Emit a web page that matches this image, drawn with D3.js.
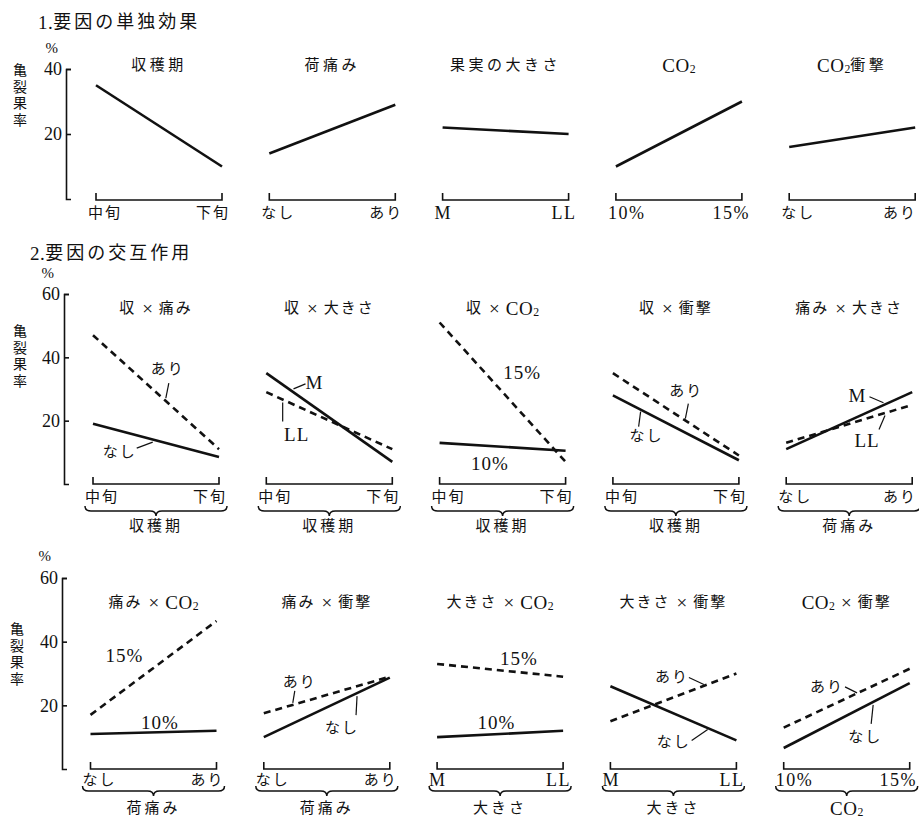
<!DOCTYPE html>
<html><head><meta charset="utf-8">
<script src="https://cdn.jsdelivr.net/npm/d3@7"></script>
<style>
body{margin:0;background:#fff;}
text{font-family:"Liberation Serif","Noto Sans CJK JP",serif;fill:#111;}
</style></head><body>
<svg id="c" width="919" height="827"></svg>
<script>
// ---------- data ----------
const sectionTitles = ["1.要因の単独効果", "2.要因の交互作用"];
const yTitle = "亀裂果率";
const mainTitles = ["収穫期", "荷痛み", "果実の大きさ", "CO₂", "CO₂衝撃"];
const mainCats = [["中旬","下旬"],["なし","あり"],["M","LL"],["10%","15%"],["なし","あり"]];
const mainValues = [[35,10],[14,29],[22,20],[10,30],[16,22]];
const yTicksMain = [20, 40];

const intTitles = ["収×痛み","収×大きさ","収×CO₂","収×衝撃","痛み×大きさ",
                   "痛み×CO₂","痛み×衝撃","大きさ×CO₂","大きさ×衝撃","CO₂×衝撃"];
const intCats = [["中旬","下旬"],["中旬","下旬"],["中旬","下旬"],["中旬","下旬"],["なし","あり"],
                 ["なし","あり"],["なし","あり"],["M","LL"],["M","LL"],["10%","15%"]];
const intFactor = ["収穫期","収穫期","収穫期","収穫期","荷痛み","荷痛み","荷痛み","大きさ","大きさ","CO₂"];
const dashedNames = ["あり","LL","15%","あり","LL","15%","あり","15%","あり","あり"];
const solidNames  = ["なし","M","10%","なし","M","10%","なし","10%","なし","なし"];
const dashedValues = [[47,11],[29,11],[51,7],[35,9],[13,25],[17,46.5],[17.5,29],[33,29],[15,30],[13,31.5]];
const solidValues  = [[19,8.5],[35,7],[13,10.5],[28,7.5],[11,29],[11,12],[10,28.7],[10,12],[26,9],[6.6,27]];
const yTicksInt = [20, 40, 60];

// ---------- layout (positions / styles) ----------
const W = 126, colStep = 173.3;
const rows = [
  {x0:96,   axisX:66, yBottom:199, yTop:69,  max:40, tickY:213, titleY:65,  pct:[52,48],  ylab:[20,70]},
  {x0:93,   axisX:64, yBottom:484, yTop:294, max:60, tickY:497, titleY:308, pct:[48,273], ylab:[20,331], braceY:511, nameY:526},
  {x0:90.5, axisX:62, yBottom:769, yTop:578, max:60, tickY:780, titleY:602, pct:[45,556], ylab:[17,629], braceY:791, nameY:808}
];
// label placement for series annotations: t along line, label offset, leader segment (relative to anchor)
const annot = [
  {d:{t:.57,dx:3,dy:-31,l:[1,-2,4,-17]},   s:{t:.49,dx:-35,dy:12,l:[-2,2,-18,8]}},
  {d:{t:.13,dx:14,dy:34,l:[0,3,0,22]},     s:{t:.2,dx:23,dy:-9,l:[2,-2,14,-7]}},
  {d:{t:.6,dx:7,dy:-34},                   s:{t:.4,dx:0,dy:17}},
  {d:{t:.575,dx:1,dy:-30,l:[0,-2,3,-17]},  s:{t:.22,dx:6,dy:26,l:[0,2,-2,17]}},
  {d:{t:.8,dx:-20,dy:28,l:[-2,3,-8,17]},   s:{t:.78,dx:-27,dy:-10,l:[-1,-2,-15,-8]}},
  {d:{t:.3,dx:-4,dy:-32},                  s:{t:.55,dx:0,dy:-10}},
  {d:{t:.23,dx:7,dy:-23,l:[0,-2,2,-14]},   s:{t:.74,dx:-15,dy:35,l:[0,3,-1,22]}},
  {d:{t:.65,dx:0,dy:-14},                  s:{t:.47,dx:0,dy:-12}},
  {d:{t:.75,dx:-33,dy:-8,l:[-1,-1,-16,-8]},s:{t:.78,dx:-35,dy:14,l:[-1,1,-17,12]}},
  {d:{t:.59,dx:-31,dy:-6,l:[-1,0,-13,-6]}, s:{t:.71,dx:-8,dy:35,l:[0,3,-2,22]}}
];

const svg = d3.select("#c");
const ink = "#111";

// text with mixed runs: CJK runs and Latin runs get different sizes; ₂ is a subscript
function txt(x, y, str, o){
  o = Object.assign({cjk:15, lat:19, ls:2, lls:0.5, anchor:"middle", xs:"1.5"}, o||{});
  const t = svg.append("text").attr("x",x).attr("y",y)
    .attr("text-anchor",o.anchor).attr("dominant-baseline","central");
  const parts = str.split(/([A-Za-z0-9%.]+|₂|×)/).filter(p=>p!=="");
  let pend = 0;
  parts.forEach((p,i)=>{
    const ts = t.append("tspan");
    if(p==="₂"){
      ts.attr("font-size",o.lat*0.62).attr("dy",4).text("2"); pend = -4;
    } else if(p==="×"){
      ts.attr("font-size",o.lat).attr("dx",o.xs).text("×"); if(pend){ts.attr("dy",pend);pend=0;}
      t.append("tspan").attr("font-size",o.lat).attr("dx",0).text("").attr("letter-spacing",0);
      ts.attr("letter-spacing",o.xs);
    } else {
      const latin = /^[A-Za-z0-9%.]/.test(p);
      ts.attr("font-size", latin?o.lat:o.cjk).attr("letter-spacing", latin?o.lls:o.ls).text(p);
      if(pend){ts.attr("dy",pend);pend=0;}
    }
  });
  return t;
}

// section titles
txt(38,22,sectionTitles[0],{cjk:18,lat:19,ls:3,anchor:"start"});
txt(30,253,sectionTitles[1],{cjk:18,lat:19,ls:3,anchor:"start"});

function drawAxis(r, ticks){
  const y = d3.scaleLinear().domain([0,r.max]).range([r.yBottom,r.yTop]);
  const g = svg.append("g").attr("transform",`translate(${r.axisX},0)`)
    .call(d3.axisLeft(y).tickValues(ticks).tickSize(-5).tickSizeOuter(-5).tickPadding(4).tickFormat(d3.format("d")));
  g.attr("font-family",null).attr("font-size",null);
  g.selectAll("path,line").attr("stroke",ink).attr("stroke-width",1.6);
  g.selectAll("text").attr("font-size",18).attr("fill",ink);
  txt(r.pct[0],r.pct[1],"%",{lat:15});
  [...yTitle].forEach((c,i)=> txt(r.ylab[0], r.ylab[1]+i*16.5, c, {cjk:14, ls:0}));
  return y;
}

function drawBase(r, x, cats, yb){
  const [a,b] = x.range();
  svg.append("path").attr("d",`M${a},${yb-7}V${yb}H${b}V${yb-7}`)
    .attr("fill","none").attr("stroke",ink).attr("stroke-width",1.6);
  txt(a-8, r.tickY, cats[0], {anchor:"start", lat:18, lls:1.5});
  txt(Math.min(b+8,917), r.tickY, cats[1], {anchor:"end", lat:18, lls:1.5});
}

function drawBrace(a,b,y){
  const m=(a+b)/2;
  svg.append("path")
    .attr("d",`M${a},${y-5}Q${a},${y} ${a+6},${y}L${m-6},${y}Q${m},${y} ${m},${y+5}Q${m},${y} ${m+6},${y}L${b-6},${y}Q${b},${y} ${b},${y-5}`)
    .attr("fill","none").attr("stroke",ink).attr("stroke-width",1.5);
}

const lineGen = (x,y)=> d3.line().x(d=>x(d.c)).y(d=>y(d.v));

// ---------- row 1 ----------
{
  const r = rows[0];
  const y = drawAxis(r, yTicksMain);
  mainTitles.forEach((tt,i)=>{
    const a = r.x0 + i*colStep;
    const x = d3.scalePoint().domain(mainCats[i]).range([a,a+W]);
    txt(a+W/2, r.titleY, tt, {cjk:15, ls:3.5, lat:19});
    drawBase(r, x, mainCats[i], r.yBottom+1);
    const pts = mainCats[i].map((c,k)=>({c, v:mainValues[i][k]}));
    svg.append("path").attr("d",lineGen(x,y)(pts)).attr("fill","none")
      .attr("stroke",ink).attr("stroke-width",2.6);
  });
}

// ---------- rows 2 & 3 ----------
[1,2].forEach(ri=>{
  const r = rows[ri];
  const y = drawAxis(r, yTicksInt);
  for(let j=0;j<5;j++){
    const i = (ri-1)*5 + j;
    const a = r.x0 + j*colStep;
    const x = d3.scalePoint().domain(intCats[i]).range([a,a+W]);
    txt(a+W/2, r.titleY, intTitles[i], {cjk:15, ls:2, lat:19, xs:6});
    drawBase(r, x, intCats[i], r.yBottom);
    drawBrace(a-8, a+W+8, r.braceY);
    txt(a+W/2, r.nameY, intFactor[i], {cjk:15, ls:3, lat:19});
    const series = [
      {name:dashedNames[i], vals:dashedValues[i], dash:"7,5", an:annot[i].d},
      {name:solidNames[i],  vals:solidValues[i],  dash:null,  an:annot[i].s}
    ];
    series.forEach(s=>{
      const pts = intCats[i].map((c,k)=>({c, v:s.vals[k]}));
      const p = svg.append("path").attr("d",lineGen(x,y)(pts)).attr("fill","none")
        .attr("stroke",ink).attr("stroke-width",2.6);
      if(s.dash) p.attr("stroke-dasharray",s.dash);
      const an = s.an;
      const ax = a + an.t*W, ay = y(s.vals[0] + an.t*(s.vals[1]-s.vals[0]));
      txt(ax+an.dx, ay+an.dy, s.name, {lat:19, lls:1, ls:2});
      if(an.l){
        svg.append("line").attr("x1",ax+an.l[0]).attr("y1",ay+an.l[1])
          .attr("x2",ax+an.l[2]).attr("y2",ay+an.l[3])
          .attr("stroke",ink).attr("stroke-width",1.2);
      }
    });
  }
});
</script>
</body></html>
